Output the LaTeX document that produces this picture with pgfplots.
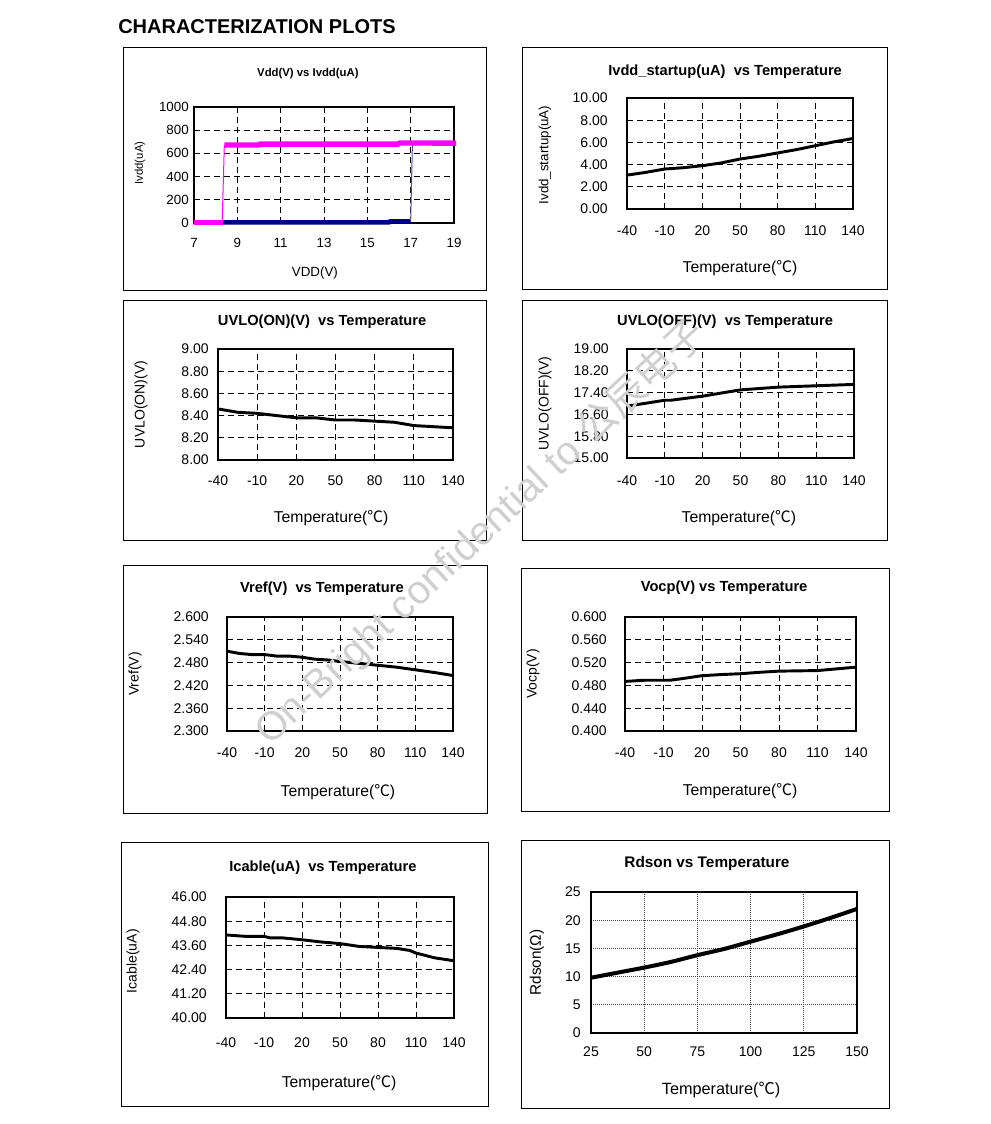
\documentclass[border=0pt]{standalone}
\usepackage{pgfplots}
\pgfplotsset{compat=1.18}
\usepackage{fontspec}
\setmainfont{Liberation Sans}
\newfontfamily\cjk{Noto Sans CJK SC}
\newcommand\degC{{\cjk ℃}}
\definecolor{navy}{HTML}{000080}
\definecolor{mag}{RGB}{255,0,255}
\newcommand\fr[4]{\draw[line width=0.75pt] ({#1*0.75pt},{(1124-#2)*0.75pt}) rectangle ({#3*0.75pt},{(1124-#4)*0.75pt});}
\pgfplotsset{
 base/.style={scale only axis, axis line style={line width=1.1pt}, major tick length=0pt, tick style={draw=none},
   grid=major, major grid style={black, line width=0.6pt, dash pattern=on 4.5pt off 3pt},
   ticklabel style={font=\fontsize{10.5}{12}\selectfont, inner sep=0pt},
   /pgf/number format/assume math mode=true, /pgf/number format/1000 sep={}, scaled ticks=false,
   every axis title shift/.style={yshift=0pt},
   title style={font=\bfseries\fontsize{11}{13}\selectfont, anchor=center, yshift=-7.5pt},
   xlabel style={font=\fontsize{11.8}{14}\selectfont, anchor=center},
   ylabel style={font=\fontsize{10.5}{12}\selectfont, anchor=center},
   anchor=south west},
 temp/.style={base, xmin=-40, xmax=140, xtick={-40,-10,20,50,80,110,140}, xlabel={Temperature(\degC)}},
 fmt/.style={yticklabel style={/pgf/number format/fixed, /pgf/number format/fixed zerofill, /pgf/number format/precision=#1}},
 tickoff/.style 2 args={xticklabel style={anchor=center, yshift=-#1}, yticklabel style={anchor=east, xshift=-#2}},
 pos/.style n args={6}{title style={at={(axis description cs:#1,#2)}}, xlabel style={at={(axis description cs:#3,#4)}}, ylabel style={at={(axis description cs:#5,#6)}}},
 curve/.style={black, line width=2.2pt, no marks}
}
\begin{document}
\begin{tikzpicture}
\path[use as bounding box] (0,0) rectangle (743.25pt,843pt);
\fr{123}{48}{486}{291}
\fr{522}{48}{887}{290}
\fr{123}{301}{486}{541}
\fr{522}{301}{887}{541}
\fr{123}{566}{487}{814}
\fr{521}{569}{889}{812}
\fr{121}{843}{488}{1107}
\fr{521}{841}{889}{1109}
\node[anchor=west, font=\bfseries\fontsize{15}{18}\selectfont, inner sep=0pt] at (88.5pt,{(1124-27)*0.75pt}) {CHARACTERIZATION PLOTS};

% Panel 1
\begin{axis}[base, at={(145.5pt,675.75pt)}, width=195pt, height=87pt,
  xmin=7, xmax=19, ymin=0, ymax=1000, xtick={7,9,...,19}, ytick={0,200,...,1000}, clip=false,
  ticklabel style={font=\fontsize{10}{12}\selectfont},
  tickoff={14.8pt}{3.75pt}, pos={0.438}{1.302}{0.465}{-0.431}{-0.208}{0.517},
  title={Vdd(V) vs Ivdd(uA)}, xlabel={VDD(V)}, ylabel={Ivdd(uA)},
  title style={font=\bfseries\fontsize{8.5}{10}\selectfont},
  xlabel style={font=\fontsize{10}{12}\selectfont},
  ylabel style={font=\fontsize{8.5}{10}\selectfont}]
\addplot[navy, line width=3.5pt, no marks] coordinates {(7,5)(16,5)(16.05,14)(17,14)};
\addplot[navy!70, line width=0.75pt, no marks] coordinates {(17,14)(17.08,680)};
\addplot[blue!40, line width=0.75pt, densely dotted, no marks] coordinates {(17.1,668)(19.1,668)};
\addplot[mag, line width=4pt, no marks] coordinates {(7,5)(8.35,5)};
\addplot[mag, line width=0.75pt, no marks] coordinates {(8.3,5)(8.4,672)};
\addplot[mag, line width=4pt, no marks] coordinates {(8.4,672)(10,672)(10.05,680)(16.4,680)(16.5,690)(19.1,688)};
\end{axis}

% Panel 2
\begin{axis}[temp, at={(470.25pt,686.25pt)}, width=169.5pt, height=83.25pt,
  ymin=0, ymax=10, ytick={0,2,...,10}, fmt=2,
  tickoff={16.5pt}{14.25pt}, pos={0.434}{1.252}{0.5}{-0.532}{-0.363}{0.486},
  title={Ivdd\_startup(uA)\ \ vs Temperature}, ylabel={Ivdd\_startup(uA)},
  ylabel style={font=\fontsize{10}{12}\selectfont}]
\addplot[curve] coordinates {(-40,3.05)(-25,3.3)(-10,3.6)(5,3.72)(20,3.9)(35,4.15)(50,4.5)(65,4.75)(80,5.05)(95,5.35)(110,5.7)(125,6.05)(140,6.35)};
\end{axis}

% Panel 3
\begin{axis}[temp, at={(163.5pt,498pt)}, width=176.25pt, height=83.25pt,
  ymin=8, ymax=9, ytick={8,8.2,8.4,8.6,8.8,9}, fmt=2,
  tickoff={15.75pt}{6.75pt}, pos={0.443}{1.261}{0.481}{-0.523}{-0.328}{0.5},
  title={UVLO(ON)(V)\ \ vs Temperature}, ylabel={UVLO(ON)(V)}]
\addplot[curve] coordinates {(-40,8.46)(-25,8.43)(-10,8.42)(5,8.40)(20,8.38)(35,8.38)(50,8.36)(65,8.36)(80,8.35)(95,8.34)(110,8.31)(125,8.30)(140,8.29)};
\end{axis}

% Panel 4
\begin{axis}[temp, at={(470.25pt,499.5pt)}, width=170.25pt, height=81.75pt,
  ymin=15, ymax=19, ytick={15,15.8,16.6,17.4,18.2,19}, fmt=2,
  tickoff={17.25pt}{13.5pt}, pos={0.432}{1.266}{0.493}{-0.55}{-0.361}{0.5},
  title={UVLO(OFF)(V)\ \ vs Temperature}, ylabel={UVLO(OFF)(V)}]
\addplot[curve] coordinates {(-40,16.90)(-10,17.12)(-5,17.12)(20,17.27)(50,17.50)(80,17.60)(110,17.65)(140,17.70)};
\end{axis}

% Panel 5
\begin{axis}[temp, at={(170.25pt,294.75pt)}, width=169.5pt, height=85.5pt,
  ymin=2.3, ymax=2.6, ytick={2.3,2.36,2.42,2.48,2.54,2.6}, fmt=3,
  tickoff={16.5pt}{13.5pt}, pos={0.420}{1.263}{0.491}{-0.535}{-0.407}{0.5},
  title={Vref(V)\ \ vs Temperature}, ylabel={Vref(V)}]
\addplot[curve] coordinates {(-40,2.510)(-30,2.504)(-20,2.501)(-10,2.501)(0,2.497)(10,2.497)(20,2.494)(30,2.489)(40,2.487)(50,2.483)(65,2.478)(80,2.473)(95,2.468)(110,2.461)(125,2.454)(140,2.446)};
\end{axis}

% Panel 6
\begin{axis}[temp, at={(468.75pt,294.75pt)}, width=173.25pt, height=85.5pt,
  ymin=0.4, ymax=0.6, ytick={0.4,0.44,0.48,0.52,0.56,0.6}, fmt=3,
  tickoff={16.5pt}{13.5pt}, pos={0.429}{1.272}{0.498}{-0.526}{-0.398}{0.5},
  title={Vocp(V) vs Temperature}, ylabel={Vocp(V)}]
\addplot[curve] coordinates {(-40,0.487)(-25,0.489)(-10,0.489)(-5,0.489)(5,0.492)(20,0.497)(35,0.499)(50,0.5005)(65,0.503)(80,0.505)(110,0.506)(125,0.509)(140,0.512)};
\end{axis}

% Panel 7
\begin{axis}[temp, at={(169.5pt,79.5pt)}, width=171pt, height=90.75pt,
  ymin=40, ymax=46, ytick={40,41.2,42.4,43.6,44.8,46}, fmt=2,
  tickoff={18.75pt}{14.25pt}, pos={0.425}{1.256}{0.496}{-0.537}{-0.408}{0.47},
  title={Icable(uA)\ \ vs Temperature}, ylabel={Icable(uA)}]
\addplot[curve] coordinates {(-40,44.12)(-25,44.05)(-10,44.05)(-5,43.97)(5,43.97)(20,43.88)(35,43.77)(50,43.69)(65,43.55)(80,43.50)(95,43.45)(105,43.35)(110,43.22)(125,42.98)(140,42.84)};
\end{axis}

% Panel 8
\begin{axis}[base, at={(443.25pt,68.25pt)}, width=199.5pt, height=105.75pt,
  xmin=25, xmax=150, ymin=0, ymax=25, xtick={25,50,...,150}, ytick={0,5,...,25},
  major grid style={black!75, line width=0.6pt, dash pattern=on 0.75pt off 0.75pt},
  tickoff={14.25pt}{7.5pt}, pos={0.436}{1.213}{0.489}{-0.404}{-0.203}{0.5},
  title={Rdson vs Temperature}, xlabel={Temperature(\degC)}, ylabel={Rdson(Ω)},
  title style={font=\bfseries\fontsize{11.5}{13}\selectfont},
  xlabel style={font=\fontsize{12.2}{14}\selectfont},
  ylabel style={font=\fontsize{11.5}{13}\selectfont}]
\addplot[black, line width=3pt, no marks, smooth] coordinates {(25,9.8)(37.5,10.7)(50,11.6)(62.5,12.6)(75,13.8)(87.5,14.9)(100,16.2)(112.5,17.5)(125,18.9)(137.5,20.4)(150,22.0)};
\end{axis}

\node[rotate=43, text=gray!38, font=\fontsize{30}{34}\selectfont, inner sep=0pt] at ({481*0.75pt},{(1124-533)*0.75pt}) {On-Bright confidential to {\cjk 公辰电子}};
\end{tikzpicture}
\end{document}
